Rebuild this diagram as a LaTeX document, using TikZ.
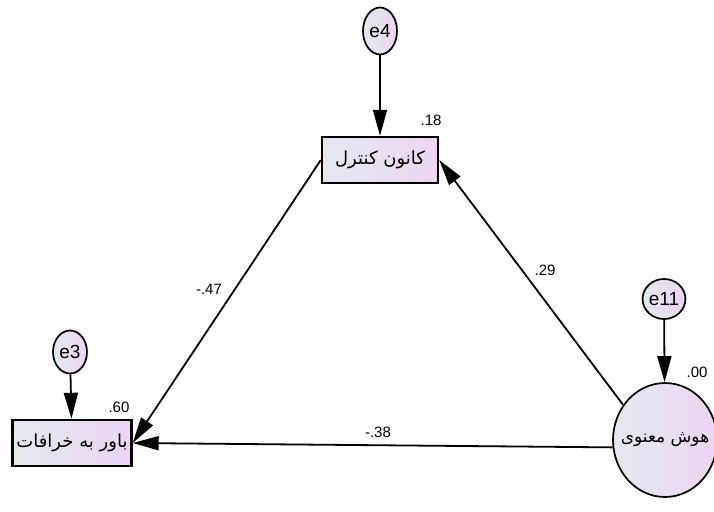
\documentclass[tikz,border=0pt]{standalone}
\usepackage{fontspec}
\setmainfont{Liberation Sans}
\newfontfamily\arabicfont[Script=Arabic]{DejaVu Sans}
\TeXXeTstate=1
\usetikzlibrary{arrows.meta,shapes.geometric}
\definecolor{shadeL}{HTML}{E3E9EF}
\definecolor{shadeR}{HTML}{EDD5F2}
\tikzset{
  errnode/.style={ellipse, draw, line width=1.7pt, left color=shadeL, right color=shadeR,
    inner sep=0pt, font=\fontsize{19}{21}\selectfont},
  obsbox/.style={rectangle, draw, line width=2.4pt, left color=shadeL, right color=shadeR,
    minimum width=116pt, minimum height=46pt, inner sep=0pt, font=\arabicfont\fontsize{18}{20}\selectfont},
  latentnode/.style={ellipse, draw, line width=1.7pt, left color=shadeL, right color=shadeR,
    minimum width=104pt, minimum height=114pt, inner sep=-20pt, font=\arabicfont\fontsize{17}{19}\selectfont},
  patharrow/.style={line width=1.8pt, -{Triangle[length=26pt,width=14pt]}},
  numlabel/.style={inner sep=0pt, font=\fontsize{15}{17}\selectfont}
}
\begin{document}
\begin{tikzpicture}[x=1pt,y=-1pt]
\useasboundingbox (0,0) rectangle (714,511);
\node[errnode, minimum width=34pt, minimum height=47pt] (e4) at (380,31) {e4};
\node[obsbox] (kanon) at (380,160) {\beginR کانون کنترل\endR};
\node[errnode, minimum width=34pt, minimum height=43pt] (e3) at (70,352) {e3};
\node[obsbox, minimum width=119pt] (bavar) at (72,443) {\beginR باور به خرافات\endR};
\node[errnode, minimum width=38pt, minimum height=40pt] (e11) at (664,299) {e11};
\node[latentnode] (hoosh) at (665,440) {\beginR هوش معنوی\endR};

\draw[patharrow] (e4) -- (kanon);
\draw[patharrow] (e3) -- (bavar);
\draw[patharrow] (e11) -- (hoosh);
\draw[patharrow] (kanon.west) -- (bavar.east);
\draw[patharrow] (hoosh.140) -- (kanon.east);
\draw[patharrow] (hoosh.188) -- (bavar.east);

\node[numlabel] (r18) at (431,120) {.18};
\node[numlabel] (r60) at (119,407) {.60};
\node[numlabel] (r00) at (697,372) {.00};
\node[numlabel] (p47) at (209,289) {-.47};
\node[numlabel] (p29) at (545,270) {.29};
\node[numlabel] (p38) at (378,432) {-.38};
\end{tikzpicture}
\end{document}
